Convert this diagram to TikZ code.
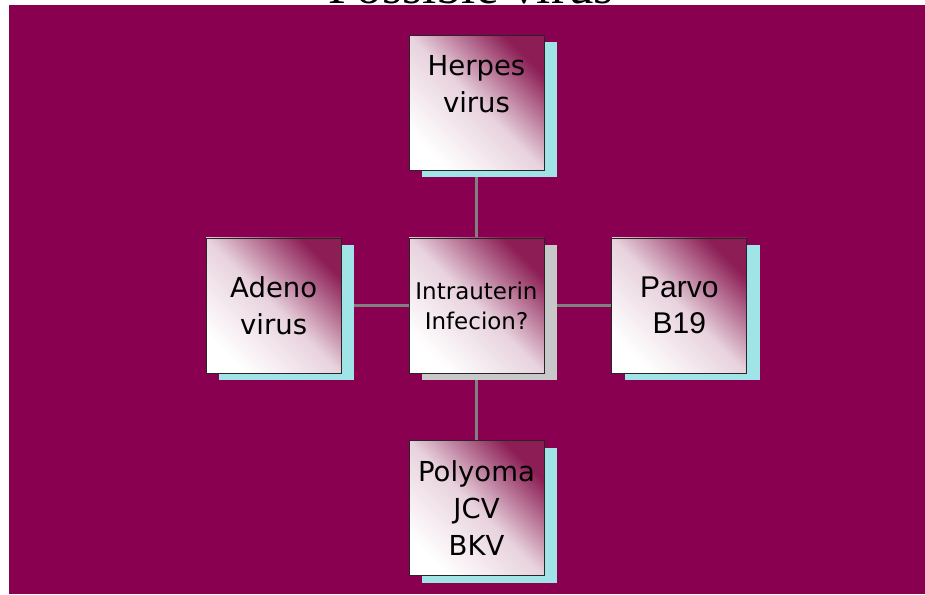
\documentclass[tikz,border=0pt]{standalone}
\usepackage{fontspec}
\setmainfont{DejaVu Sans}
\newfontfamily\arialfont{Liberation Sans}
\newfontfamily\titlefont{Liberation Serif}
\usepackage{xcolor}
\usetikzlibrary{positioning, shadows, backgrounds}

\definecolor{slidebg}{RGB}{137,0,80}
\definecolor{boxtop}{RGB}{140,30,85}
\definecolor{cyanshadow}{RGB}{160,228,232}
\definecolor{greyshadow}{RGB}{200,200,200}
\definecolor{linkgrey}{RGB}{128,128,128}

\begin{document}
\begin{tikzpicture}[x=1pt, y=1pt, node distance=67pt,
    virusbox/.style={draw=black!85, line width=0.8pt, minimum size=135pt, inner sep=2pt, align=center,
        shading=axis, bottom color=white, top color=boxtop, middle color=boxtop!20!white, shading angle=-45,
        font=\fontsize{27.5}{37}\selectfont,
        drop shadow={fill=#1, opacity=1, shadow xshift=13pt, shadow yshift=-7pt}},
    virusbox/.default=cyanshadow,
    link/.style={draw=linkgrey, line width=2.2pt}]

    \useasboundingbox (0,0) rectangle (925,594);

    % Title
    \node[font=\titlefont\fontsize{51}{51}\selectfont, anchor=base] (title) at (471,590) {Possible virus};

    % Center node
    \node[virusbox=greyshadow, font=\fontsize{23}{30}\selectfont] (infection) at (476.5,288.5) {Intrauterin\\Infecion?};

    % Virus nodes
    \node[virusbox, above=of infection] (herpes) {Herpes\\virus\\\mbox{}};
    \node[virusbox, left=of infection] (adeno) {Adeno\\virus};
    \node[virusbox, right=of infection, font=\arialfont\fontsize{30}{36}\selectfont] (parvo) {Parvo\\B19};
    \node[virusbox, below=of infection] (polyoma) {Polyoma\\JCV\\BKV};

    % Slide and connections behind the boxes
    \begin{scope}[on background layer]
        \fill[slidebg] (9,0) rectangle (925,589);
        \draw[link] (infection) -- (herpes);
        \draw[link] (infection) -- (adeno);
        \draw[link] (infection) -- (parvo);
        \draw[link] (infection) -- (polyoma);
    \end{scope}

\end{tikzpicture}
\end{document}
